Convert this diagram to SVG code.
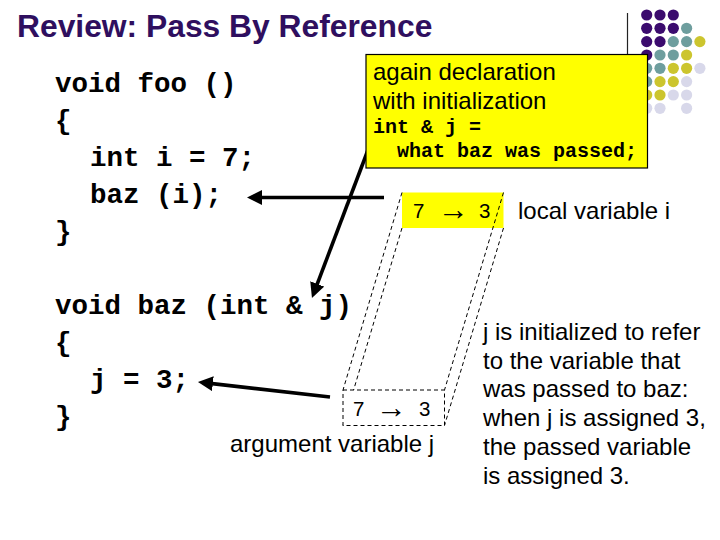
<svg xmlns="http://www.w3.org/2000/svg" width="720" height="540" viewBox="0 0 720 540">
<style>
.code{font-family:"Liberation Mono","Courier New",monospace;font-weight:bold;font-size:27.5px;fill:#000}
.mono{font-family:"Liberation Mono","Courier New",monospace;font-weight:bold;font-size:20px;fill:#000}
.sans{font-family:"Liberation Sans",Arial,sans-serif;font-size:24px;fill:#000}
.val{font-family:"Liberation Sans",Arial,"DejaVu Sans",sans-serif;font-size:20.5px;fill:#000}
.arr{font-family:"Liberation Sans",Arial,"DejaVu Sans",sans-serif;font-size:31px}
.dash{fill:none;stroke:#000;stroke-width:1;stroke-dasharray:4,3}
.arrow{stroke:#000;stroke-width:3.6;fill:none;marker-end:url(#ah)}
.p{fill:#3B0B6E}.t{fill:#6E9E9E}.y{fill:#CCC52E}.l{fill:#D8D8EA}
</style>
<defs>
<marker id="ah" markerUnits="userSpaceOnUse" viewBox="0 0 15 15" markerWidth="15" markerHeight="15" refX="5" refY="7.5" orient="auto">
<path d="M0,0 L15,7.5 L0,15 Z" fill="#000"/>
</marker>
</defs>
<rect width="720" height="540" fill="#fff"/>

<g id="decoration">
<line x1="627.5" y1="13" x2="627.5" y2="60" stroke="#222" stroke-width="1.2"/>
<g>
<circle class="p" cx="646.7" cy="15" r="5.6"/><circle class="p" cx="660" cy="15" r="5.6"/><circle class="p" cx="673.3" cy="15" r="5.6"/>
<circle class="p" cx="646.7" cy="28.3" r="5.6"/><circle class="p" cx="660" cy="28.3" r="5.6"/><circle class="p" cx="673.3" cy="28.3" r="5.6"/><circle class="t" cx="686.6" cy="28.3" r="5.6"/>
<circle class="p" cx="646.7" cy="41.6" r="5.6"/><circle class="p" cx="660" cy="41.6" r="5.6"/><circle class="t" cx="673.3" cy="41.6" r="5.6"/><circle class="t" cx="686.6" cy="41.6" r="5.6"/><circle class="y" cx="699.9" cy="41.6" r="5.6"/>
<circle class="p" cx="646.7" cy="55" r="5.6"/><circle class="t" cx="660" cy="55" r="5.6"/><circle class="t" cx="673.3" cy="55" r="5.6"/><circle class="y" cx="686.6" cy="55" r="5.6"/>
<circle class="t" cx="646.7" cy="68.3" r="5.6"/><circle class="t" cx="660" cy="68.3" r="5.6"/><circle class="y" cx="673.3" cy="68.3" r="5.6"/><circle class="y" cx="686.6" cy="68.3" r="5.6"/><circle class="l" cx="699.9" cy="68.3" r="5.6"/>
<circle class="t" cx="646.7" cy="81.6" r="5.6"/><circle class="y" cx="660" cy="81.6" r="5.6"/><circle class="y" cx="673.3" cy="81.6" r="5.6"/><circle class="l" cx="686.6" cy="81.6" r="5.6"/>
<circle class="y" cx="646.7" cy="95" r="5.6"/><circle class="y" cx="660" cy="95" r="5.6"/><circle class="l" cx="673.3" cy="95" r="5.6"/><circle class="l" cx="686.6" cy="95" r="5.6"/>
<circle class="l" cx="646.7" cy="108.3" r="5.6"/><circle class="l" cx="660" cy="108.3" r="5.6"/><circle class="l" cx="686.6" cy="108.3" r="5.6"/>
</g>
</g>

<g id="title">
<text x="17" y="37" font-family="Liberation Sans, Arial, sans-serif" font-weight="bold" font-size="31.8" fill="#2F0F5F">Review: Pass By Reference</text>
</g>

<g id="foo-code">
<text class="code" x="55" y="92">void foo ()</text>
<text class="code" x="55" y="129">{</text>
<text class="code" x="90" y="166">int i = 7;</text>
<text class="code" x="90" y="203">baz (i);</text>
<text class="code" x="55" y="240">}</text>
</g>

<g id="baz-code">
<text class="code" x="55" y="314">void baz (int &amp; j)</text>
<text class="code" x="55" y="351">{</text>
<text class="code" x="90" y="388">j = 3;</text>
<text class="code" x="55" y="425">}</text>
</g>

<g id="connectors">
<line class="arrow" x1="384" y1="197.5" x2="257" y2="197.5"/>
<line class="arrow" x1="369.5" y1="146" x2="315.5" y2="288.6"/>
<line class="arrow" x1="330" y1="397" x2="207.9" y2="383.1"/>
</g>

<g id="note-box">
<rect x="366" y="54.5" width="281.5" height="113.5" fill="#FFFF00" stroke="#000" stroke-width="1.2"/>
<text class="sans" x="373" y="80">again declaration</text>
<text class="sans" x="373" y="109">with initialization</text>
<text class="mono" x="373" y="133">int &amp; j =</text>
<text class="mono" x="397" y="157">what baz was passed;</text>
</g>

<g id="local-i">
<rect x="402" y="192.5" width="101.5" height="35.5" fill="#FFFF00"/>
<text class="val" y="217.5"><tspan x="413">7</tspan><tspan class="arr" x="438" y="219.5">→</tspan><tspan x="479" y="217.5">3</tspan></text>
<text class="sans" x="518" y="219">local variable i</text>
</g>

<g id="extrusion">
<line class="dash" x1="402" y1="192.5" x2="343" y2="390"/>
<line class="dash" x1="402" y1="228" x2="343" y2="425.5"/>
<line class="dash" x1="503.5" y1="192.5" x2="444.5" y2="390"/>
<line class="dash" x1="503.5" y1="228" x2="444.5" y2="425.5"/>
</g>

<g id="arg-j">
<rect x="343" y="390" width="101.5" height="35.5" fill="#fff" stroke="#000" stroke-width="1" stroke-dasharray="4,3"/>
<text class="val" y="415.5"><tspan x="353">7</tspan><tspan class="arr" x="376" y="417.5">→</tspan><tspan x="419" y="415.5">3</tspan></text>
<text class="sans" x="230" y="452">argument variable j</text>
</g>

<g id="explanation">
<text class="sans" x="483" y="340">j is initialized to refer</text>
<text class="sans" x="483" y="368.7">to the variable that</text>
<text class="sans" x="483" y="397.4">was passed to baz:</text>
<text class="sans" x="483" y="426.1">when j is assigned 3,</text>
<text class="sans" x="483" y="454.8">the passed variable</text>
<text class="sans" x="483" y="483.5">is assigned 3.</text>
</g>
</svg>
